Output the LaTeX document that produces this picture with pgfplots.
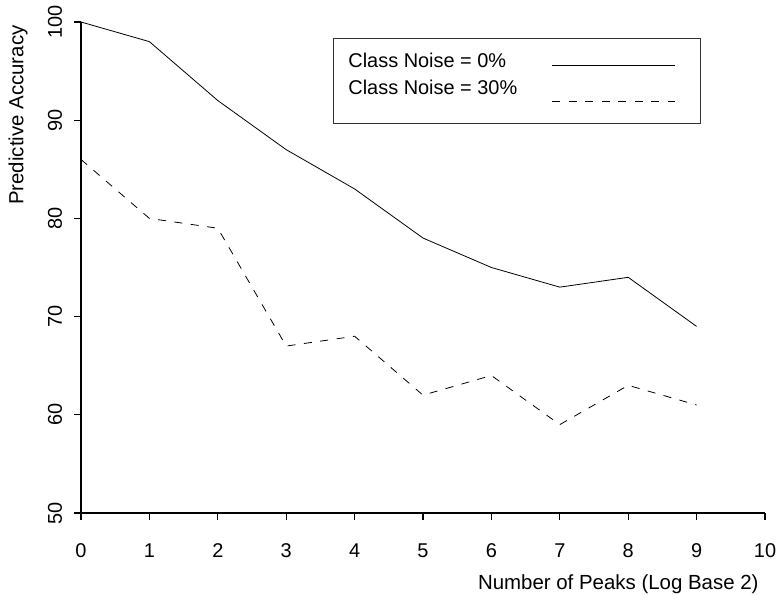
\documentclass[border=0pt]{standalone}
\usepackage{fontspec}
\setmainfont{Liberation Sans}
\usepackage{pgfplots}
\pgfplotsset{compat=1.18}
\begin{document}
\begin{tikzpicture}
\path[use as bounding box] (0bp,0bp) rectangle (778bp,595bp);
\begin{axis}[
  at={(81bp,82bp)}, anchor=south west,
  scale only axis, width=684bp, height=491bp,
  xmin=0, xmax=10, ymin=50, ymax=100,
  xtick={0,1,...,10}, ytick={50,60,...,100},
  axis x line*=bottom, axis y line*=left,
  axis line style={line width=1.2bp, -},
  xtick align=outside, ytick align=outside,
  major tick length=7bp,
  every tick/.style={line width=1.2bp, black},
  /pgf/number format/assume math mode=true,
  every tick label/.append style={font=\fontsize{20}{24}\selectfont},
  xticklabel style={anchor=base, yshift=-37bp},
  yticklabel style={rotate=90, anchor=center, yshift=19bp},
  label style={font=\fontsize{20.5}{24}\selectfont},
  xlabel={Number of Peaks (Log Base 2)},
  xlabel style={at={(axis description cs:1,0)}, anchor=base east, yshift=-76bp, xshift=-3bp},
  ylabel={Predictive Accuracy},
  ylabel style={at={(axis description cs:0,1)}, anchor=east, yshift=63bp},
  legend style={at={(axis cs:3.684,98.37)}, anchor=north west,
    draw=black!80, line width=0.9bp,
    inner xsep=15bp, inner ysep=15bp,
    row sep=11bp, column sep=35bp,
    nodes={inner sep=0pt, font=\fontsize{20}{24}\selectfont}},
  legend plot pos=right,
  legend cell align=left,
]
\addplot[black, line width=0.8bp,
  legend image code/.code={
    \path[draw=none] (0bp,0bp) -- (133bp,0bp);
    \draw[black, line width=0.8bp, overlay] (0bp,-4bp) -- (123bp,-4bp);}]
  coordinates {(0,100) (1,98) (2,92) (3,87) (4,83) (5,78) (6,75) (7,73) (8,74) (9,69)};
\addlegendentry{Class Noise = 0\%}
\addplot[black, line width=0.8bp, dash pattern=on 8bp off 8.5bp,
  legend image code/.code={
    \path[draw=none] (0bp,0bp) -- (133bp,0bp);
    \draw[black, line width=0.8bp, dash pattern=on 8bp off 8.5bp, overlay] (0bp,-13bp) -- (123bp,-13bp);}]
  coordinates {(0,86) (1,80) (2,79) (3,67) (4,68) (5,62) (6,64) (7,59) (8,63) (9,61)};
\addlegendentry{Class Noise = 30\%}
\addlegendimage{empty legend}
\addlegendentry{}
\end{axis}
\end{tikzpicture}
\end{document}
